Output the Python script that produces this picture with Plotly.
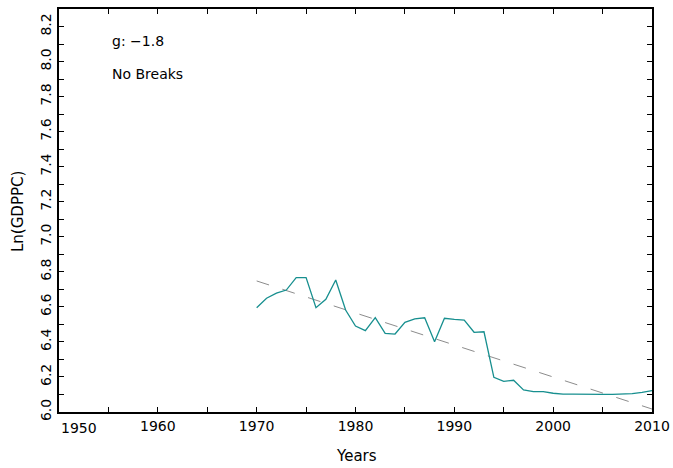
import plotly.graph_objects as go

years = list(range(1970, 2011))
ln_gdppc = [6.595, 6.649, 6.678, 6.696, 6.767, 6.767, 6.595, 6.643, 6.753, 6.582,
            6.491, 6.464, 6.538, 6.449, 6.445, 6.512, 6.531, 6.538, 6.401, 6.535,
            6.529, 6.525, 6.455, 6.458, 6.198, 6.175, 6.181, 6.126, 6.116, 6.116,
            6.107, 6.102, 6.102, 6.103, 6.102, 6.101, 6.101, 6.101, 6.105, 6.112,
            6.122]
trend_years = [1970, 2010]
trend_vals = [6.748, 6.017]

x_ticks = list(range(1950, 2011, 5))
x_labels = ["" if (v % 10 or v == 1950) else str(v) for v in x_ticks]
y_ticks = [round(6.0 + 0.1 * i, 1) for i in range(24)]
y_labels = [f"{v:.1f}" if i % 2 == 0 else "" for i, v in enumerate(y_ticks)]

FONT = "DejaVu Sans"
W, H = 673, 468
l, r, t, b = 59, 21, 9, 56
pw, ph = W - l - r, H - t - b


def px_x(px):
    return (px - l) / pw


def px_y(py):
    return 1 - (py - t) / ph


fig = go.Figure()
fig.add_trace(go.Scatter(x=trend_years, y=trend_vals, mode="lines",
                         line=dict(color="#8c8c8c", width=1, dash="13px,14px"),
                         hoverinfo="skip", showlegend=False))
fig.add_trace(go.Scatter(x=years, y=ln_gdppc, mode="lines",
                         line=dict(color="#178f8f", width=1.3),
                         showlegend=False))

fig.update_layout(
    width=W, height=H,
    margin=dict(l=l, r=r, t=t, b=b),
    paper_bgcolor="white", plot_bgcolor="white",
    font=dict(family=FONT, size=14, color="black"),
    xaxis=dict(range=[1950, 2010], tickvals=x_ticks, ticktext=x_labels,
               ticks="inside", ticklen=5, tickwidth=1, tickcolor="black",
               showline=True, linecolor="black", linewidth=2, mirror="ticks",
               showgrid=False, zeroline=False, automargin=False,
               tickfont=dict(size=14)),
    yaxis=dict(range=[6.0, 8.3], tickvals=y_ticks, ticktext=y_labels,
               ticks="inside", ticklen=5, tickwidth=1, tickcolor="black",
               showline=True, linecolor="black", linewidth=2, mirror="ticks",
               showgrid=False, zeroline=False, tickangle=-90, automargin=False,
               tickfont=dict(size=14)),
    annotations=[
        dict(text="1950", x=1950, y=px_y(428), xref="x", yref="paper",
             xanchor="left", yanchor="middle", showarrow=False),
        dict(text="Years", x=px_x(356), y=px_y(456), xref="paper", yref="paper",
             xanchor="center", yanchor="middle", showarrow=False, font=dict(size=15)),
        dict(text="Ln(GDPPC)", x=px_x(18), y=px_y(212), xref="paper", yref="paper",
             xanchor="center", yanchor="middle", textangle=-90, showarrow=False,
             font=dict(size=15)),
        dict(text="g: \u22121.8", x=px_x(110), y=px_y(41), xref="paper", yref="paper",
             xanchor="left", yanchor="middle", showarrow=False),
        dict(text="No Breaks", x=px_x(110), y=px_y(74), xref="paper", yref="paper",
             xanchor="left", yanchor="middle", showarrow=False),
    ],
)

fig.write_html("out.html", config={"displayModeBar": False},
               post_script="document.body.style.margin='0';document.body.style.padding='0';")
